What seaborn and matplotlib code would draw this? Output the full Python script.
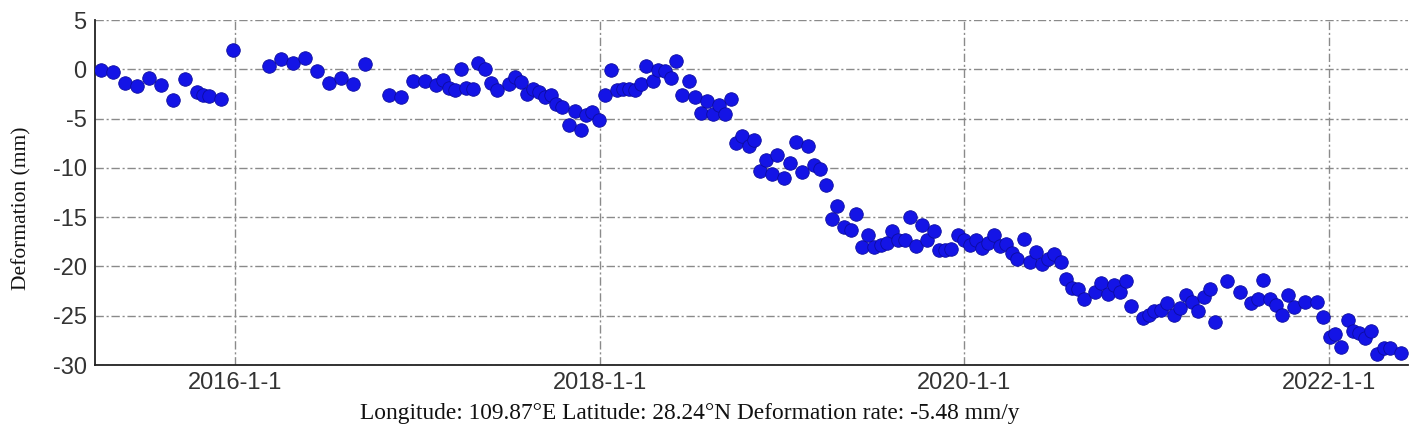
import numpy as np
import pandas as pd
import matplotlib
matplotlib.use("Agg")
import matplotlib.pyplot as plt
import matplotlib.dates as mdates
from matplotlib.ticker import FuncFormatter
import seaborn as sns

# Acquisition dates as days since 2016-01-01
days_since_2016 = [
    -267, -243, -219, -195, -171, -147, -123, -99, -75, -63, -51, -27, -3,
    69, 93, 117, 141, 165, 189, 213, 236, 261, 309, 332, 357, 381, 404, 417,
    429, 441, 454, 464, 477, 487, 501, 513, 526, 549, 561, 573, 585, 597, 609,
    621, 633, 644, 656, 669, 681, 693, 704, 716, 729, 741, 753, 765, 777, 789,
    801, 813, 824, 837, 847, 861, 873, 884, 896, 909, 921, 933, 945, 957, 969,
    982, 993, 1003, 1015, 1029, 1041, 1052, 1065, 1076, 1087, 1101, 1112, 1125,
    1136, 1149, 1161, 1173, 1184, 1196, 1207, 1221, 1234, 1244, 1257, 1269,
    1281, 1294, 1306, 1317, 1329, 1342, 1353, 1365, 1376, 1387, 1401, 1411,
    1422, 1435, 1449, 1461, 1473, 1484, 1496, 1509, 1521, 1532, 1544, 1556,
    1567, 1581, 1593, 1604, 1616, 1629, 1641, 1654, 1665, 1677, 1689, 1701,
    1724, 1735, 1749, 1761, 1773, 1785, 1796, 1819, 1831, 1842, 1855, 1867,
    1881, 1893, 1905, 1917, 1929, 1941, 1953, 1964, 1987, 2013, 2036, 2049,
    2059, 2074, 2085, 2097, 2109, 2121, 2144, 2167, 2179, 2193, 2204, 2216,
    2229, 2239, 2251, 2264, 2276, 2287, 2301, 2313, 2336,
]

deformation_mm = [
    -0.1, -0.3, -1.4, -1.7, -0.9, -1.6, -3.1, -1.0, -2.3, -2.6, -2.7, -3.0, 2.0,
    0.3, 1.0, 0.6, 1.1, -0.2, -1.35, -0.9, -1.5, 0.5, -2.6, -2.8, -1.2, -1.2, -1.55, -1.05,
    -1.9, -2.1, 0.0, -1.9, -2.0, 0.65, 0.0, -1.4, -2.1, -1.45, -0.75, -1.3, -2.55, -2.0, -2.3,
    -2.8, -2.6, -3.5, -3.8, -5.7, -4.2, -6.2, -4.6, -4.3, -5.1, -2.6, -0.1, -2.1, -1.95, -1.95,
    -2.1, -1.45, 0.35, -1.2, -0.1, -0.2, -0.9, 0.85, -2.6, -1.2, -2.8, -4.4, -3.2, -4.55, -3.65,
    -4.55, -3.05, -7.5, -6.8, -7.8, -7.2, -10.3, -9.2, -10.6, -8.65, -11.0, -9.55, -7.4,
    -10.4, -7.8, -9.7, -10.1, -11.7, -15.2, -13.9, -16.0, -16.3, -14.7, -18.0, -16.8,
    -18.0, -17.8, -17.6, -16.4, -17.3, -17.3, -15.0, -17.9, -15.8, -17.3, -16.4, -18.35,
    -18.3, -18.2, -16.8, -17.35, -17.8, -17.3, -18.1, -17.6, -16.8, -17.95, -17.7, -18.6,
    -19.2, -17.2, -19.5, -18.5, -19.8, -19.2, -18.7, -19.5, -21.3, -22.2, -22.25, -23.3,
    -22.6, -21.7, -22.75, -21.9, -22.6, -21.5, -24.0, -25.2, -24.95, -24.5, -24.4, -23.75,
    -24.95, -24.2, -22.9, -23.6, -24.5, -23.1, -22.3, -25.6, -21.5, -22.6, -23.75, -23.3,
    -21.4, -23.35, -23.9, -24.95, -22.85, -24.1, -23.6, -23.6, -25.1, -27.15, -26.9, -28.2,
    -25.4, -26.5, -26.8, -27.3, -26.5, -28.9, -28.3, -28.3, -28.8,
]

x_tick_dates = ["2016-01-01", "2018-01-01", "2020-01-01", "2022-01-01"]
y_ticks = [5, 0, -5, -10, -15, -20, -25, -30]
y_label = "Deformation (mm)"
caption = "Longitude: 109.87°E Latitude: 28.24°N Deformation rate: -5.48 mm/y"

base = pd.Timestamp("2016-01-01")
df = pd.DataFrame({
    "date": base + pd.to_timedelta(days_since_2016, unit="D"),
    "deformation": deformation_mm,
})

sns.set_style("white")
plt.rcParams["font.family"] = ["Liberation Sans", "DejaVu Sans"]
plt.rcParams["axes.unicode_minus"] = False

fig = plt.figure(figsize=(14.21, 4.36), dpi=100)
ax = fig.add_axes([95 / 1421, 1 - 365 / 436, 1313 / 1421, 345 / 436])

sns.scatterplot(data=df, x="date", y="deformation", ax=ax, s=95,
                color="#1414e6", edgecolor="#0c0ca0", linewidth=0.6,
                zorder=3, legend=False)

ax.set_xlim(pd.Timestamp("2015-03-27"), pd.Timestamp("2022-06-08"))
ax.set_ylim(-30, 5)
ax.set_yticks(y_ticks)
ax.set_xticks(pd.to_datetime(x_tick_dates))
ax.xaxis.set_major_formatter(FuncFormatter(
    lambda v, pos: (lambda d: f"{d.year}-{d.month}-{d.day}")(mdates.num2date(v))))

ax.grid(True, which="major", linestyle=(0, (6, 2, 1.5, 2)), color="#8a8a8a",
        linewidth=1.0, zorder=0)
ax.set_axisbelow(True)

for s in ["top", "right"]:
    ax.spines[s].set_visible(False)
for s in ["left", "bottom"]:
    ax.spines[s].set_color("#222222")
    ax.spines[s].set_linewidth(1.3)

ax.tick_params(axis="both", direction="in", length=6, width=1.3, color="#333333",
               labelsize=17, labelcolor="#333333")
ax.tick_params(axis="y", pad=6)
ax.tick_params(axis="x", pad=5)

ax.set_xlabel("")
ax.set_ylabel(y_label, family=["Liberation Serif", "DejaVu Serif"], fontsize=15.5,
              color="#111111")
ax.yaxis.set_label_coords(-0.048, 0.455)

fig.text(690 / 1421, 1 - 413 / 436, caption, ha="center", va="center",
         family=["Liberation Serif", "DejaVu Serif"], fontsize=16.8, color="#111111")

fig.savefig("out.png", dpi=100, facecolor="white")
